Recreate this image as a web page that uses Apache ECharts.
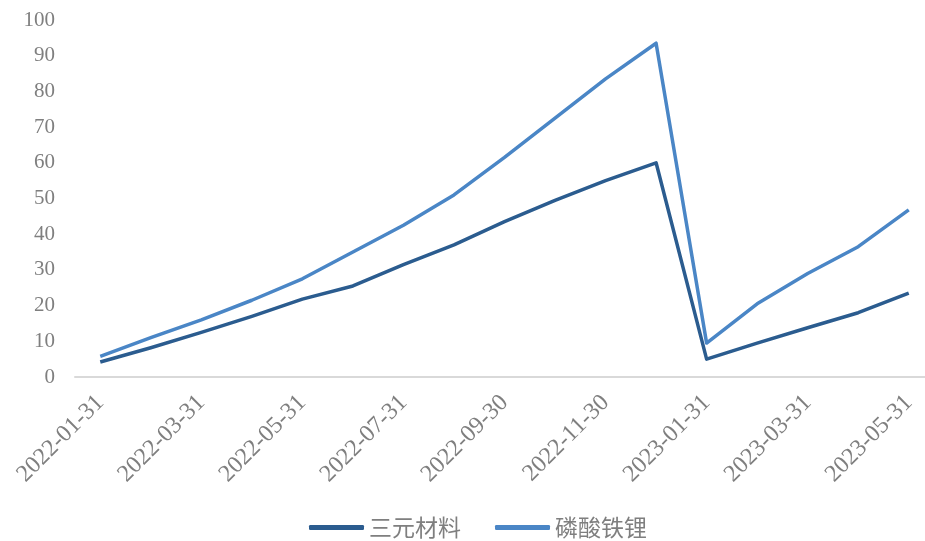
<!DOCTYPE html>
<html>
<head>
<meta charset="utf-8">
<script src="https://cdn.jsdelivr.net/npm/echarts@6/dist/echarts.min.js"></script>
<style>html,body{margin:0;padding:0;background:#fff;overflow:hidden}#c{width:934px;height:541px}</style>
</head>
<body>
<div id="c"></div>
<script>
const categories = ['2022-01-31','2022-02-28','2022-03-31','2022-04-30','2022-05-31','2022-06-30','2022-07-31','2022-08-31','2022-09-30','2022-10-31','2022-11-30','2022-12-31','2023-01-31','2023-02-28','2023-03-31','2023-04-30','2023-05-31'];
const ternary = [4.2, 8.2, 12.5, 17, 21.8, 25.5, 31.5, 37, 43.5, 49.5, 55, 60, 5, 9.5, 13.8, 18, 23.5];
const lfp = [5.8, 11, 16, 21.5, 27.5, 35, 42.5, 51, 61.5, 72.5, 83.5, 93.5, 9.5, 20.5, 29, 36.5, 46.8];
const yMin = 0, yMax = 100, yInterval = 10;
const seriesNames = ['三元材料', '磷酸铁锂'];

const chart = echarts.init(document.getElementById('c'), null, {renderer: 'canvas'});
const gray = '#7f7f7f';
chart.setOption({
  animation: false,
  backgroundColor: '#fff',
  grid: {left: 75, right: 0, top: 20, bottom: 164, containLabel: false},
  legend: {
    bottom: -3, left: 304,
    data: seriesNames,
    icon: 'roundRect', itemWidth: 55, itemHeight: 5, itemGap: 34,
    textStyle: {fontFamily: '"Noto Sans CJK SC", sans-serif', fontSize: 23, color: gray}
  },
  xAxis: {
    type: 'category', data: categories, boundaryGap: true,
    axisLine: {lineStyle: {color: '#d9d9d9', width: 2}},
    axisTick: {show: false},
    axisLabel: {
      interval: 1, rotate: 45, margin: 22,
      fontFamily: '"Liberation Serif", "Times New Roman", serif', fontSize: 24, color: gray
    }
  },
  yAxis: {
    type: 'value', min: yMin, max: yMax, interval: yInterval,
    axisLine: {show: false}, axisTick: {show: false}, splitLine: {show: false},
    axisLabel: {margin: 20, fontFamily: '"Liberation Serif", "Times New Roman", serif', fontSize: 21, color: gray}
  },
  series: [
    {name: seriesNames[0], type: 'line', data: ternary, showSymbol: false, smooth: false,
     lineStyle: {color: '#2b5c8f', width: 3.5, join: 'round'}, itemStyle: {color: '#2b5c8f'}},
    {name: seriesNames[1], type: 'line', data: lfp, showSymbol: false, smooth: false,
     lineStyle: {color: '#4a86c6', width: 3.5, join: 'round'}, itemStyle: {color: '#4a86c6'}}
  ]
});
</script>
</body>
</html>
